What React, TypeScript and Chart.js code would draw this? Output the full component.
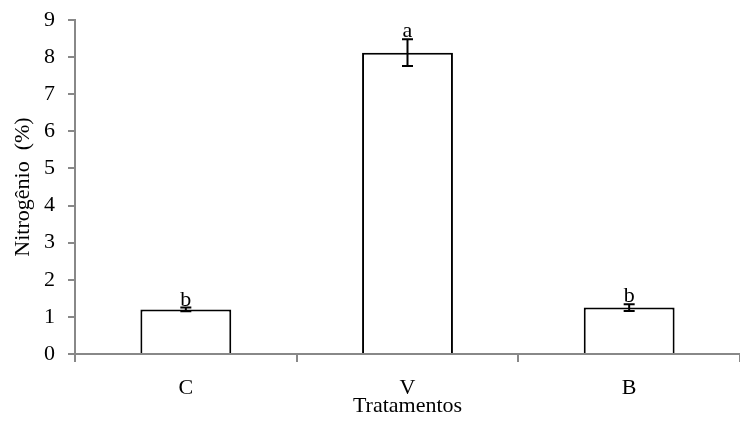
import React, { useEffect, useRef } from "react";
import { Chart, registerables } from "chart.js";

Chart.register(...registerables);

const categories = ["C", "V", "B"];
const values = [1.2, 8.12, 1.25];
const errors = [0.05, 0.36, 0.09];
const letters = ["b", "a", "b"];
const yTicks = [0, 1, 2, 3, 4, 5, 6, 7, 8, 9];

const FONT = "'Liberation Serif', 'Times New Roman', serif";

const annotPlugin = {
  id: "annot",
  afterDatasetsDraw(chart: any) {
    const ctx = chart.ctx;
    const xs = chart.scales.x;
    const ys = chart.scales.y;
    ctx.save();
    ctx.strokeStyle = "#000";
    ctx.lineWidth = 2;
    values.forEach((v, i) => {
      const x = xs.getPixelForValue(i);
      const yTop = ys.getPixelForValue(v + errors[i]);
      const yBot = ys.getPixelForValue(v - errors[i]);
      const cap = 5.5;
      ctx.beginPath();
      ctx.moveTo(x, yTop);
      ctx.lineTo(x, yBot);
      ctx.moveTo(x - cap, yTop);
      ctx.lineTo(x + cap, yTop);
      ctx.moveTo(x - cap, yBot);
      ctx.lineTo(x + cap, yBot);
      ctx.stroke();
      ctx.fillStyle = "#000";
      ctx.font = `22px ${FONT}`;
      ctx.textAlign = "center";
      ctx.textBaseline = "alphabetic";
      ctx.fillText(letters[i], x, yTop - 2);
    });
    ctx.restore();
  },
};

export default function App() {
  const ref = useRef<HTMLCanvasElement>(null);
  useEffect(() => {
    const chart = new Chart(ref.current!, {
      type: "bar",
      data: {
        labels: categories,
        datasets: [
          {
            data: values,
            backgroundColor: "#fff",
            borderColor: "#000",
            borderWidth: 2,
            barPercentage: 0.41,
            categoryPercentage: 1,
          },
        ],
      },
      options: {
        animation: false,
        responsive: false,
        maintainAspectRatio: false,
        layout: { padding: { top: 20, right: 0, left: 0, bottom: 0 } },
        plugins: { legend: { display: false }, tooltip: { enabled: false } },
        scales: {
          x: {
            afterFit: (s: any) => {
              s.height = 77;
              s.paddingLeft = 0;
              s.paddingRight = 0;
            },
            grid: {
              display: true,
              drawOnChartArea: false,
              offset: true,
              color: "#888",
              lineWidth: 2,
              tickLength: 8,
            },
            border: { color: "#888", width: 2 },
            ticks: {
              color: "#000",
              font: { family: FONT, size: 22 },
              padding: 13,
            },
            title: {
              display: true,
              text: "Tratamentos",
              color: "#000",
              font: { family: FONT, size: 22 },
              padding: { top: 0, bottom: 12 },
            },
          },
          y: {
            min: 0,
            max: 9,
            afterFit: (s: any) => {
              s.width = 75;
              s.paddingTop = 0;
              s.paddingBottom = 0;
            },
            afterBuildTicks: (s: any) => {
              s.ticks = yTicks.map((v) => ({ value: v }));
            },
            grid: {
              display: true,
              drawOnChartArea: false,
              color: "#888",
              lineWidth: 2,
              tickLength: 7,
            },
            border: { color: "#888", width: 2 },
            ticks: {
              color: "#000",
              font: { family: FONT, size: 22 },
              padding: 13,
            },
            title: {
              display: true,
              text: "Nitrogênio  (%)",
              color: "#000",
              font: { family: FONT, size: 22 },
              padding: { top: 10, bottom: 0 },
            },
          },
        },
      },
      plugins: [annotPlugin],
    });
    return () => chart.destroy();
  }, []);
  return (
    <div style={{ position: "fixed", left: 0, top: 0, width: 740, height: 431, background: "#fff" }}>
      <canvas ref={ref} width={740} height={431} style={{ display: "block" }} />
    </div>
  );
}
